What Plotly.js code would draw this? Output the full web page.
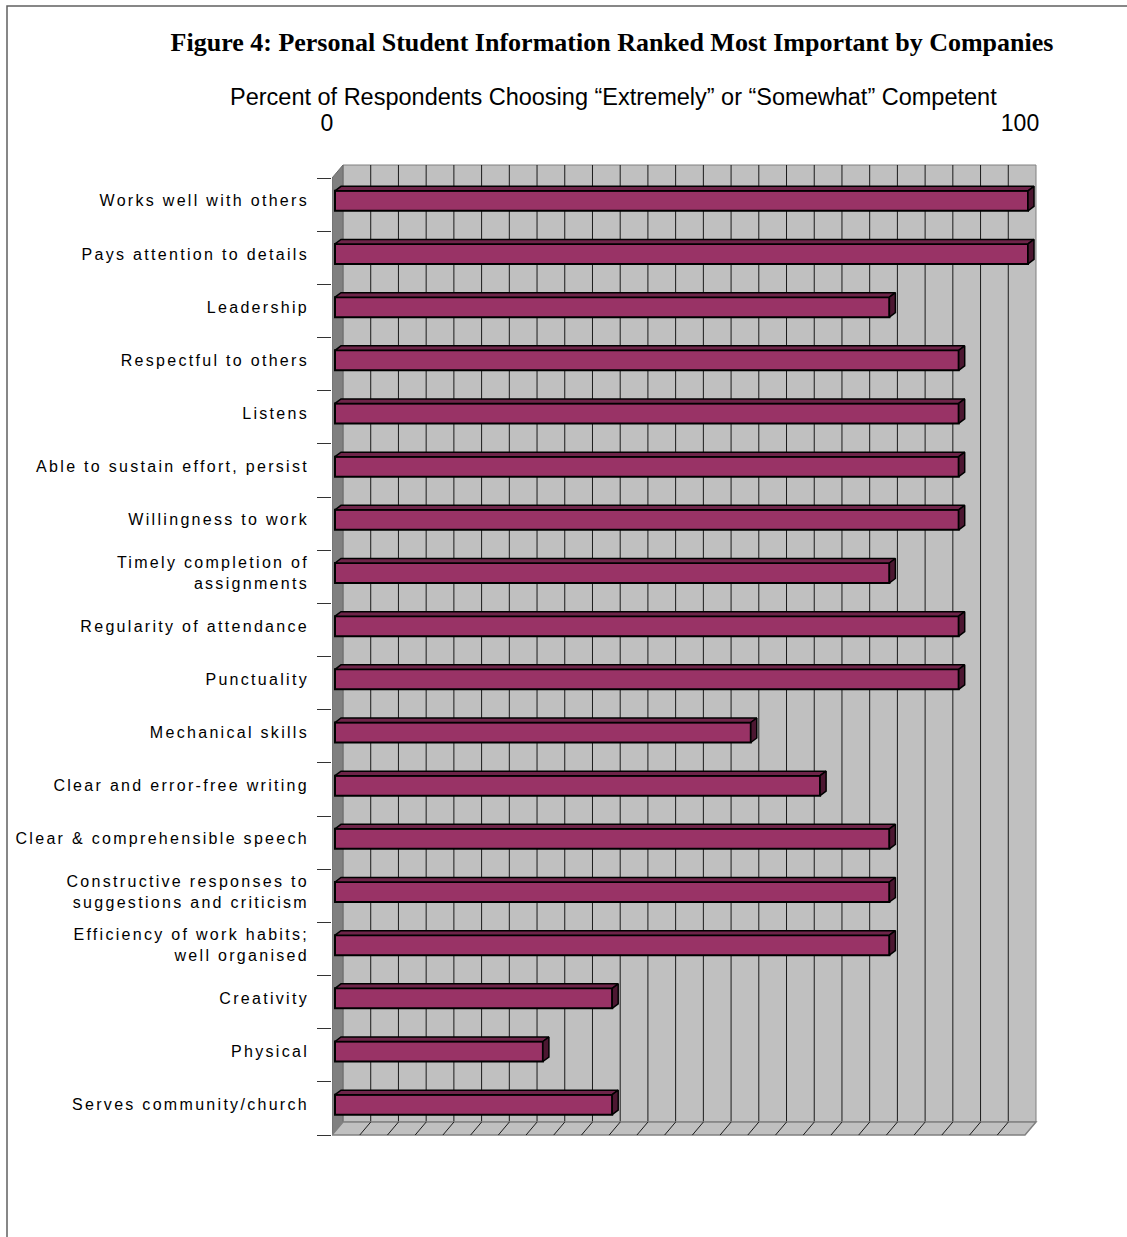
<!DOCTYPE html>
<html>
<head>
<meta charset="utf-8">
<script src="https://cdn.plot.ly/plotly-3.0.1.min.js"></script>
<style>
  html, body { margin: 0; padding: 0; background: #ffffff; }
  #chart { width: 1127px; height: 1237px; }
  .yaxislayer-above .ytick text { letter-spacing: 2.3px; }
</style>
</head>
<body>
<div id="chart"></div>
<script>
// ---------------- data ----------------
const categories = [
  "Works well with others",
  "Pays attention to details",
  "Leadership",
  "Respectful to others",
  "Listens",
  "Able to sustain effort, persist",
  "Willingness to work",
  "Timely completion of<br>assignments",
  "Regularity of attendance",
  "Punctuality",
  "Mechanical skills",
  "Clear and error-free writing",
  "Clear & comprehensible speech",
  "Constructive responses to<br>suggestions and criticism",
  "Efficiency of work habits;<br>well organised",
  "Creativity",
  "Physical",
  "Serves community/church"
];
const values = [100, 100, 80, 90, 90, 90, 90, 80, 90, 90, 60, 70, 80, 80, 80, 40, 30, 40];
const xTickVals = [0, 100];
const xTickText = ["0", "100"];
const chartTitle = "Figure 4: Personal Student Information Ranked Most Important by Companies";
const axisTitle = "Percent of Respondents Choosing \u201cExtremely\u201d or \u201cSomewhat\u201d Competent";

// ---------------- geometry (pixels) ----------------
const W = 1127, H = 1237;
const L = 332, R = 89, T = 164, B = 101;
const PW = W - L - R, PH = H - T - B;
const K = 6.93;      // px per percent
const X0 = 335;      // pixel of value 0 on bar plane
const C = 53.17;     // px per category row
const Y0 = 174.2;    // top of first row on bar plane
const px2x = p => (p - X0) / K;
const py2y = p => (p - Y0) / C - 0.5;
const xAt = (v, dpx) => v + dpx / K;
const yAt = (i, dpx) => i + dpx / C;
const BACK = [8, -9.2], FRONT = [-3, 3.8];
const BD = [6, -4.5];       // bar depth
const barW = 20 / C;
const n = categories.length;
const idx = categories.map((c, i) => i);
const first = -0.5, last = n - 0.5;

// ---------------- 3D faces of bars ----------------
const topX = [], topY = [], sideX = [], sideY = [];
values.forEach((v, i) => {
  const yt = i - barW / 2, yb = i + barW / 2;
  const dx = BD[0] / K, dy = BD[1] / C;
  topX.push(0, dx, v + dx, v, 0, null);
  topY.push(yt, yt + dy, yt + dy, yt, yt, null);
  sideX.push(v, v + dx, v + dx, v, v, null);
  sideY.push(yt, yt + dy, yb + dy, yb, yt, null);
});

// ---------------- walls, grid ----------------
const shapes = [];
const bx = v => xAt(v, BACK[0]), by = i => yAt(i, BACK[1]);
const fx = v => xAt(v, FRONT[0]), fy = i => yAt(i, FRONT[1]);
// back wall
shapes.push({type: 'rect', xref: 'x', yref: 'y', layer: 'below',
  x0: bx(0), x1: bx(100), y0: by(first), y1: by(last),
  fillcolor: '#c0c0c0', line: {color: '#808080', width: 1}});
// grid lines on back wall
for (let g = 4; g < 100; g += 4) {
  shapes.push({type: 'line', xref: 'x', yref: 'y', layer: 'below',
    x0: bx(g), x1: bx(g), y0: by(first), y1: by(last),
    line: {color: '#1a1a1a', width: 1}});
}
// side wall
shapes.push({type: 'path', xref: 'x', yref: 'y', layer: 'below',
  path: `M${fx(0)},${fy(first)} L${bx(0)},${by(first)} L${bx(0)},${by(last)} L${fx(0)},${fy(last)} Z`,
  fillcolor: '#808080', line: {color: '#6a6a6a', width: 1}});
// floor
shapes.push({type: 'path', xref: 'x', yref: 'y', layer: 'below',
  path: `M${fx(0)},${fy(last)} L${fx(100)},${fy(last)} L${bx(100)},${by(last)} L${bx(0)},${by(last)} Z`,
  fillcolor: '#c0c0c0', line: {color: '#808080', width: 1.5}});
for (let g = 4; g < 100; g += 4) {
  shapes.push({type: 'line', xref: 'x', yref: 'y', layer: 'below',
    x0: bx(g), x1: fx(g), y0: by(last), y1: fy(last),
    line: {color: '#1a1a1a', width: 1}});
}
// outer frame
const pxp = p => (p - L) / PW, pyp = p => (H - B - p) / PH;
shapes.push({type: 'rect', xref: 'paper', yref: 'paper', layer: 'below',
  x0: pxp(7), x1: pxp(1300), y0: pyp(1400), y1: pyp(6),
  fillcolor: 'rgba(0,0,0,0)', line: {color: '#606060', width: 1.5}});

// ---------------- traces ----------------
const traces = [
  {type: 'bar', orientation: 'h', x: values, y: idx, width: barW,
   marker: {color: '#993366', line: {color: '#000000', width: 2}},
   hovertext: categories, hoverinfo: 'x+text', showlegend: false},
  {type: 'scatter', mode: 'lines', x: topX, y: topY, fill: 'toself',
   fillcolor: '#6e2449', line: {color: '#000000', width: 1.5},
   hoverinfo: 'skip', showlegend: false},
  {type: 'scatter', mode: 'lines', x: sideX, y: sideY, fill: 'toself',
   fillcolor: '#4c1731', line: {color: '#000000', width: 1.5},
   hoverinfo: 'skip', showlegend: false},
  {type: 'scatter', x: [], y: [], yaxis: 'y2', hoverinfo: 'skip', showlegend: false}
];

const shiftY = FRONT[1] / C;
const layout = {
  width: W, height: H,
  margin: {l: L, r: R, t: T, b: B, pad: 0},
  paper_bgcolor: '#ffffff', plot_bgcolor: 'rgba(0,0,0,0)',
  showlegend: false,
  title: {text: chartTitle, x: 612 / W, xref: 'container', xanchor: 'center',
          y: 1 - 42 / H, yref: 'container', yanchor: 'middle',
          font: {family: 'Liberation Serif, Times New Roman, serif', size: 26, weight: 'bold', color: '#000'}},
  xaxis: {range: [px2x(L), px2x(L + PW)], side: 'top', tickvals: xTickVals, ticktext: xTickText,
          ticks: '', showgrid: false, zeroline: false, showline: false, fixedrange: true,
          ticklabelstandoff: 27, ticklabelshift: -8,
          tickfont: {family: 'Liberation Sans, Arial, sans-serif', size: 23, color: '#000'}},
  yaxis: {range: [py2y(T + PH), py2y(T)], tickvals: idx, ticktext: categories,
          ticks: '', showgrid: false, zeroline: false, showline: false, fixedrange: true,
          ticklabelstandoff: 22,
          tickfont: {family: 'Liberation Sans, Arial, sans-serif', size: 16, color: '#000'}},
  yaxis2: {overlaying: 'y', side: 'left', anchor: 'x',
           range: [py2y(T + PH) - shiftY, py2y(T) - shiftY],
           tickvals: Array.from({length: n + 1}, (_, k) => k - 0.5),
           ticks: 'outside', ticklen: 14, tickcolor: '#333', tickwidth: 1,
           showticklabels: false, showgrid: false, zeroline: false, showline: false, fixedrange: true},
  annotations: [{text: axisTitle, xref: 'paper', yref: 'paper', x: pxp(613), y: pyp(97),
                 xanchor: 'center', yanchor: 'middle', showarrow: false,
                 font: {family: 'Liberation Sans, Arial, sans-serif', size: 23.5, color: '#000'}}],
  shapes: shapes
};

Plotly.newPlot('chart', traces, layout, {displayModeBar: false, staticPlot: true});
</script>
</body>
</html>
